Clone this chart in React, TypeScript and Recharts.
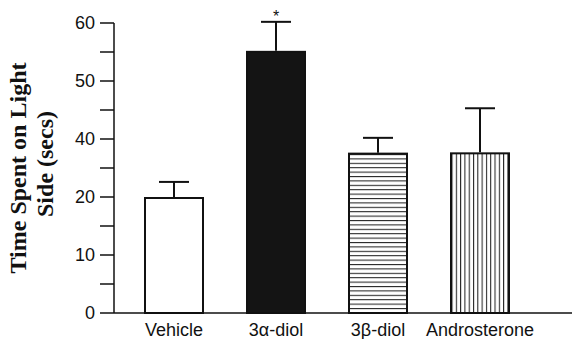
import React from 'react';
import { BarChart, Bar, XAxis, YAxis, Cell, LabelList } from 'recharts';

const categories = ['Vehicle', '3α-diol', '3β-diol', 'Androsterone'];
const means = [20, 55.2, 35.3, 35.4];
const sems = [5.2, 5.0, 4.9, 9.9];
const marks = ['', '*', '', ''];
const tickLabels = [0, 10, 20, 40, 50, 60];

// the axis is drawn with 20..40 squeezed into one 10-unit step
const toAxis = (v: number) => (v <= 20 ? v : v <= 40 ? 20 + (v - 20) / 2 : v - 10);
const axisTicks = [0, 5, 10, 15, 20, 25, 30, 35, 40, 45, 50];

const data = categories.map((name, i) => ({
  name,
  mean: means[i],
  sem: sems[i],
  plot: toAxis(means[i]),
  plotTop: toAxis(means[i] + sems[i]),
  mark: marks[i],
}));

const fills = ['#ffffff', '#141414', 'url(#hlines)', 'url(#vlines)'];
const sans = "'Liberation Sans', Arial, sans-serif";

const BarShape = (props: any) => {
  const { x, y, width, height, payload, fill } = props;
  const perUnit = height / payload.plot;
  const errY = y + height - payload.plotTop * perUnit;
  const cx = x + width / 2;
  return (
    <g>
      <rect x={x + 1} y={y + 1} width={width - 2} height={height - 1} fill={fill} stroke="#111" strokeWidth={2} />
      <line x1={cx} y1={y} x2={cx} y2={errY} stroke="#111" strokeWidth={2} />
      <line x1={cx - 15} y1={errY} x2={cx + 15} y2={errY} stroke="#111" strokeWidth={2} />
    </g>
  );
};

const YTick = (props: any) => {
  const { x, y, payload } = props;
  const v = payload.value;
  return (
    <g>
      <line x1={x - 14} y1={y} x2={x} y2={y} stroke="#111" strokeWidth={1.5} />
      {v % 10 === 0 && (
        <text x={x - 19} y={y} dy="0.36em" textAnchor="end" fontSize={18} fill="#111" fontFamily={sans}>
          {tickLabels[v / 10]}
        </text>
      )}
    </g>
  );
};

const YLabel = () => (
  <g fontFamily="'Liberation Serif', 'Times New Roman', serif" fontWeight="bold" fontSize={24} fill="#111">
    <text transform="translate(26,168) rotate(-90)" textAnchor="middle">Time Spent on Light</text>
    <text transform="translate(53,164) rotate(-90)" textAnchor="middle">Side (secs)</text>
  </g>
);

const MarkLabel = (props: any) => {
  const { x, width, index } = props;
  const d = data[index];
  if (!d.mark) return null;
  return (
    <text x={x + width / 2} y={22} textAnchor="middle" fontSize={16} fill="#111" fontFamily={sans}>
      {d.mark}
    </text>
  );
};

export default function App() {
  return (
    <div style={{ position: 'absolute', left: 0, top: 0, background: '#fff' }}>
      <BarChart width={573} height={339} data={data} margin={{ top: 23, right: 1, bottom: 0, left: 54 }} barSize={60}>
        <defs>
          <pattern id="hlines" patternUnits="userSpaceOnUse" width={8} height={4.4}>
            <rect width={8} height={4.4} fill="#fff" />
            <line x1={0} y1={0.5} x2={8} y2={0.5} stroke="#222" strokeWidth={1.1} />
          </pattern>
          <pattern id="vlines" patternUnits="userSpaceOnUse" width={4.3} height={8}>
            <rect width={4.3} height={8} fill="#fff" />
            <line x1={0.5} y1={0} x2={0.5} y2={8} stroke="#222" strokeWidth={1.1} />
          </pattern>
        </defs>
        <XAxis
          dataKey="name"
          height={26}
          padding={{ left: 9, right: 41 }}
          tickLine={false}
          axisLine={{ stroke: '#111', strokeWidth: 1.5 }}
          tick={{ fill: '#111', fontSize: 18, fontFamily: sans }}
          tickMargin={4}
          interval={0}
        />
        <YAxis
          width={60}
          domain={[0, 50]}
          ticks={axisTicks}
          interval={0}
          tickLine={false}
          tickSize={0}
          tickMargin={0}
          axisLine={{ stroke: '#111', strokeWidth: 1.5 }}
          tick={<YTick />}
          label={<YLabel />}
        />
        <Bar dataKey="plot" shape={<BarShape />} isAnimationActive={false}>
          {data.map((d, i) => (
            <Cell key={d.name} fill={fills[i]} />
          ))}
          <LabelList dataKey="mark" content={<MarkLabel />} />
        </Bar>
      </BarChart>
    </div>
  );
}
